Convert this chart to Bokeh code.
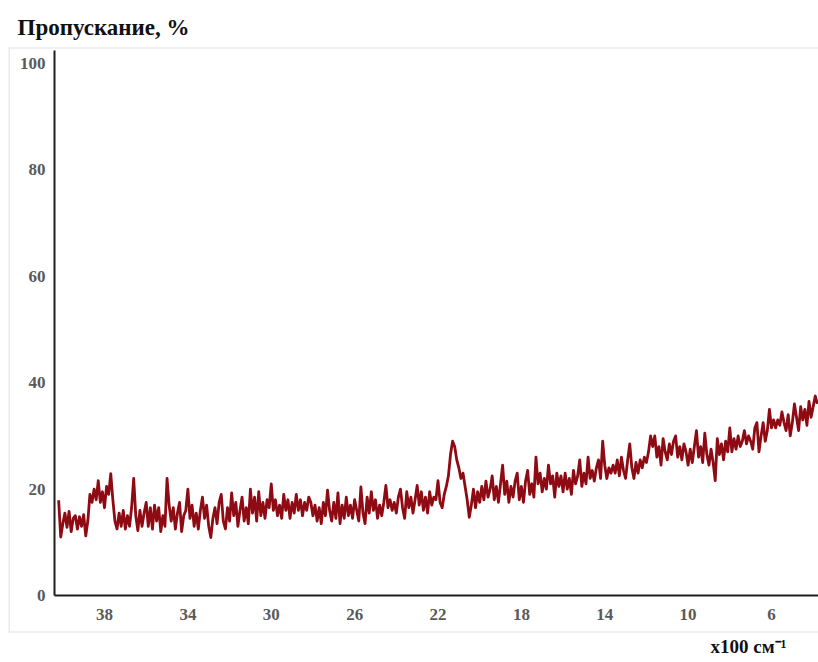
from bokeh.plotting import figure
from bokeh.models import Range1d, LinearAxis, FixedTicker, Span, Title, Grid
from bokeh.embed import file_html
from bokeh.resources import INLINE

# ---- data ----
x_ticks = [38, 34, 30, 26, 22, 18, 14, 10, 6]
y_ticks = [0, 20, 40, 60, 80, 100]

wn_start = 40.2   # x100 cm-1, first sample
wn_step = 0.1     # sampling step

seg_a = [17.9, 11.0, 13.5, 15.5, 12.8, 15.8, 12.0, 14.5, 15.0, 12.5,
         14.8, 13.0, 15.2, 11.2, 14.0, 19.0, 17.5, 20.0, 18.0, 21.6,
         17.5, 19.5, 16.5, 20.5, 19.0, 22.9, 18.0, 14.0, 12.5, 15.5,
         13.0, 16.0, 12.5, 15.0, 13.0, 16.5, 22.0, 15.0, 12.2, 16.0,
         13.0, 15.5, 17.5, 13.0, 16.5, 12.5, 17.0, 14.0, 16.5, 12.0,
         15.0, 13.0, 22.0, 17.0, 14.0, 16.5, 12.5, 15.5, 17.5, 12.0, 15.0]
seg_b = [16.0, 20.0, 14.5, 17.0, 13.0, 15.5, 12.5, 16.0, 18.5, 14.5,
         17.0, 13.0, 10.9, 14.5, 16.5, 13.5, 17.5, 19.0, 14.0, 12.5,
         16.5, 14.0, 19.3, 15.0, 17.5, 13.0, 16.0, 18.5, 14.0, 16.5,
         13.5, 20.0, 15.5, 18.5, 14.0, 19.5, 15.0, 17.5, 14.5, 18.0,
         16.5, 21.0, 16.0, 18.0, 15.0, 17.0, 14.5, 19.0, 16.0, 18.0,
         14.5, 17.5, 15.5, 19.0, 16.0, 18.0, 15.0, 17.5, 16.0, 18.5]
seg_c = [17.5, 15.0, 17.0, 14.0, 16.5, 13.5, 17.5, 15.0, 19.8, 16.0,
         14.0, 17.5, 14.5, 19.3, 13.5, 17.0, 14.5, 18.5, 15.0, 17.0,
         14.5, 18.0, 16.0, 14.0, 20.4, 15.5, 13.5, 18.5, 15.5, 19.5,
         16.0, 18.0, 14.5, 17.0, 15.0, 17.5, 20.7, 16.5, 18.0, 16.0,
         17.5, 15.5, 18.5, 20.0, 16.5, 14.5, 19.5, 16.5, 18.5, 15.5,
         18.0, 20.7, 17.0, 19.5, 16.0, 18.5, 15.5, 19.5, 17.0, 18.5]
seg_d = [18.0, 21.6, 17.5, 16.5, 19.0, 20.5, 22.5, 26.5, 29.0, 28.0,
         25.5, 24.0, 22.0, 23.0, 20.5, 18.0, 14.7, 17.0, 20.0, 16.5,
         19.5, 17.5, 20.5, 18.0, 21.5, 18.5, 20.0, 22.5, 18.0, 20.5,
         17.5, 21.0, 24.5, 19.0, 21.5, 17.5, 20.5, 18.5, 21.5, 23.0,
         18.0, 20.5, 17.5, 21.5, 23.5, 19.0, 21.0, 18.5, 26.0, 21.0,
         23.0, 19.5, 22.0, 20.0, 24.5, 21.0, 22.5, 18.5, 23.0, 20.5]
seg_e = [22.5, 19.5, 23.0, 20.0, 22.0, 19.0, 23.5, 21.0, 22.5, 25.5,
         20.5, 23.0, 21.0, 26.0, 22.0, 23.5, 21.5, 24.0, 25.5, 22.0,
         29.0, 24.5, 22.0, 24.0, 23.0, 24.5, 23.0, 25.5, 22.5, 26.0,
         23.5, 22.0, 25.5, 28.5, 24.0, 22.0, 25.0, 23.0, 25.5, 24.0,
         26.0, 25.0, 27.0, 30.0, 28.0, 30.0, 26.0, 28.0, 24.5, 29.5,
         27.0, 25.5, 28.5, 26.5, 29.0, 30.0, 26.0, 28.0, 25.5, 28.5]
seg_f = [27.0, 24.5, 27.5, 25.0, 28.0, 31.0, 26.0, 28.0, 25.0, 30.5,
         26.5, 24.5, 27.5, 25.0, 21.6, 29.5, 26.5, 28.5, 25.5, 29.0,
         27.0, 31.5, 27.0, 29.5, 27.5, 30.0, 28.0, 29.0, 31.0, 28.5,
         30.0, 29.0, 27.5, 31.5, 32.5, 27.0, 30.0, 32.5, 29.0, 31.0,
         35.0, 31.5, 33.0, 31.5, 33.0, 32.0, 34.5, 32.5, 31.0, 34.0,
         30.0, 32.5, 36.0, 33.5, 31.0, 35.5, 33.0, 35.0, 32.0, 36.5,
         33.5, 35.5, 37.5, 36.0]

transmittance = seg_a + seg_b + seg_c + seg_d + seg_e + seg_f
wavenumber = [round(wn_start - wn_step * i, 2) for i in range(len(transmittance))]

# ---- figure ----
SERIF = "Liberation Serif"
LABEL_GRAY = "#5a5a5a"
BORDER = "#e2e2e2"

p = figure(width=818, height=662, output_backend="svg", toolbar_location=None,
           x_range=Range1d(42.606, 3.745), y_range=Range1d(-6.95, 103.0),
           x_axis_location=None, y_axis_location=None,
           min_border_left=8, min_border_right=0,
           min_border_top=47, min_border_bottom=30,
           title="Пропускание, %")
p.outline_line_color = None
p.background_fill_color = "white"
p.border_fill_color = "white"
p.center = [c for c in p.center if not isinstance(c, Grid)]

p.title.align = "left"
p.title.offset = 9
p.title.standoff = 16
p.title.text_font = SERIF
p.title.text_font_style = "bold"
p.title.text_font_size = "23px"
p.title.text_color = "#111111"

# x-axis unit label, bottom right under the frame
xlab = Title(text="x100 см⁻¹", align="left", offset=702, standoff=3,
             vertical_align="bottom",
             text_font=SERIF, text_font_style="bold", text_font_size="19px",
             text_color="#111111")
p.add_layout(xlab, "below")

# light frame around the plotting region
for loc, dim in [(42.58, "height"), (102.95, "width"), (-6.88, "width")]:
    p.add_layout(Span(location=loc, dimension=dim, line_color=BORDER, line_width=1.5))

common = dict(axis_line_width=2, axis_line_color="#1e1e1e",
              major_tick_line_color=None, minor_tick_line_color=None,
              major_tick_in=0, major_tick_out=0,
              major_label_text_font=SERIF, major_label_text_font_style="bold",
              major_label_text_font_size="17px", major_label_text_color=LABEL_GRAY)

xa = LinearAxis(fixed_location=0, ticker=FixedTicker(ticks=x_ticks),
                bounds=(3.5, 40.4), major_label_standoff=13, **common)
ya = LinearAxis(fixed_location=40.4, ticker=FixedTicker(ticks=y_ticks),
                bounds=(0, 102.4), major_label_standoff=9, **common)
p.add_layout(xa, "below")
p.add_layout(ya, "left")

p.line(wavenumber, transmittance, line_color="#8e0b14", line_width=2.8,
       line_join="round")

open("out.html", "w").write(file_html(p, INLINE))
